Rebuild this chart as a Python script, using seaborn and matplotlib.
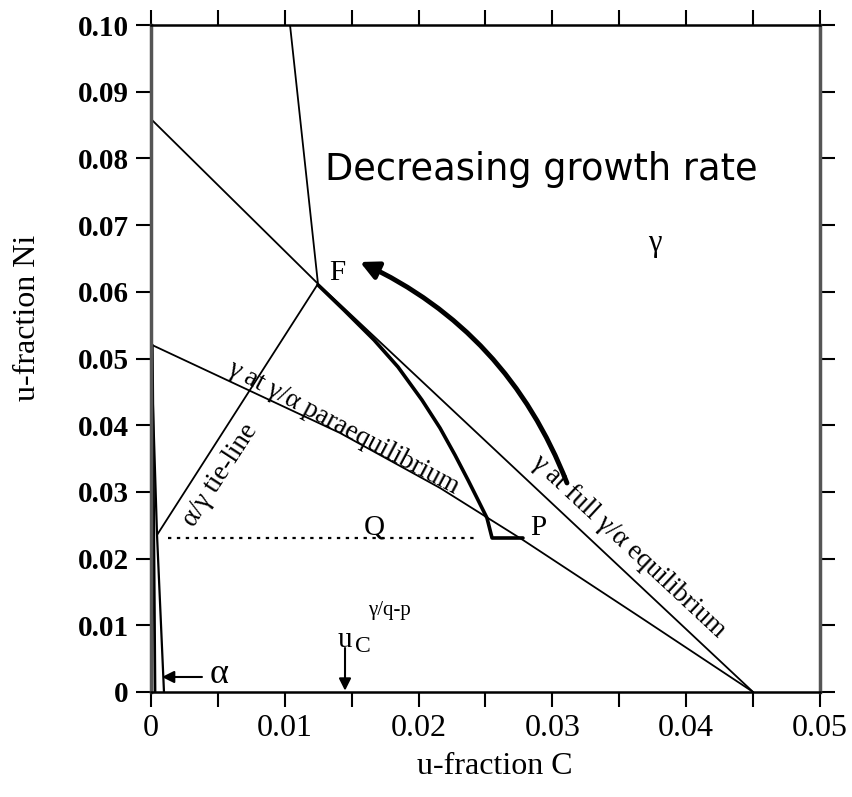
import numpy as np
import pandas as pd
import matplotlib
matplotlib.use("Agg")
import matplotlib.pyplot as plt
import seaborn as sns

# ---------------- data ----------------
full_eq_x = [0.0, 0.01248, 0.0450]
full_eq_y = [0.0859, 0.0612, 0.0]

para_eq_x = [0.0, 0.01413, 0.0216, 0.0278, 0.03655, 0.0450]
para_eq_y = [0.0521, 0.03883, 0.03059, 0.02279, 0.01124, 0.0]

steep_x = [0.01039, 0.01248]
steep_y = [0.1000, 0.0612]

tie_x = [0.01248, 0.00045]
tie_y = [0.0612, 0.02354]

alpha_para_x = [0.0, 0.00045, 0.00097]
alpha_para_y = [0.0521, 0.02354, 0.0]

alpha_full_x = [0.0001, 0.0003]
alpha_full_y = [0.0520, 0.0]

path_x = [0.01248, 0.01442, 0.01667, 0.01846, 0.02025, 0.02160, 0.02272,
          0.02369, 0.02444, 0.02511, 0.02549, 0.02780]
path_y = [0.06102, 0.05727, 0.05278, 0.04873, 0.04378, 0.03958, 0.03553,
          0.03179, 0.02879, 0.02609, 0.02309, 0.02309]

q_x = [0.00127, 0.02444]
q_y = [0.02309, 0.02309]

x_ticks = [0, 0.01, 0.02, 0.03, 0.04, 0.05]
x_tick_labels = ["0", "0.01", "0.02", "0.03", "0.04", "0.05"]
y_ticks = [0, 0.01, 0.02, 0.03, 0.04, 0.05, 0.06, 0.07, 0.08, 0.09, 0.10]
y_tick_labels = ["0", "0.01", "0.02", "0.03", "0.04", "0.05", "0.06",
                 "0.07", "0.08", "0.09", "0.10"]

# ---------------- figure ----------------
sns.set_theme(style="white")
plt.rcParams["font.family"] = ["Liberation Serif", "DejaVu Serif"]
plt.rcParams["mathtext.fontset"] = "stix"
plt.rcParams["text.color"] = "black"
plt.rcParams["axes.labelcolor"] = "black"
plt.rcParams["xtick.color"] = "black"
plt.rcParams["ytick.color"] = "black"

fig = plt.figure(figsize=(8.53, 7.97), dpi=100)
ax = fig.add_axes([151 / 853, 1 - 692 / 797, 669 / 853, 667 / 797])


def draw(xs, ys, **kw):
    df = pd.DataFrame({"x": xs, "y": ys})
    sns.lineplot(data=df, x="x", y="y", sort=False, estimator=None,
                 legend=False, ax=ax, **kw)


draw(full_eq_x, full_eq_y, color="black", linewidth=1.3)
draw(para_eq_x, para_eq_y, color="black", linewidth=1.3)
draw(steep_x, steep_y, color="black", linewidth=1.3)
draw(tie_x, tie_y, color="black", linewidth=1.3)
draw(alpha_para_x, alpha_para_y, color="black", linewidth=1.6)
draw(alpha_full_x, alpha_full_y, color="black", linewidth=2.0)
draw(path_x, path_y, color="black", linewidth=2.6)
draw(q_x, q_y, color="black", linewidth=1.6, linestyle=(0, (1.5, 2.5)))

ax.set_xlim(0, 0.05)
ax.set_ylim(0, 0.10)

# ticks
ax.set_xticks(x_ticks)
ax.set_xticklabels(x_tick_labels, fontsize=23)
ax.set_xticks(np.arange(0.005, 0.05, 0.01), minor=True)
ax.set_yticks(y_ticks)
ax.set_yticklabels(y_tick_labels, fontsize=21, fontweight="bold")
ax.tick_params(which="both", direction="out", length=11, width=1.5,
               top=True, right=True, bottom=True, left=True, color="black",
               pad=5)

for s in ["left", "right"]:
    ax.spines[s].set_color("#555555")
    ax.spines[s].set_linewidth(2.5)
for s in ["top", "bottom"]:
    ax.spines[s].set_color("black")
    ax.spines[s].set_linewidth(1.8)

ax.set_xlabel("u-fraction C", fontsize=23)
ax.set_ylabel("u-fraction Ni", fontsize=23)
ax.xaxis.set_label_coords(0.514, -0.09)
ax.yaxis.set_label_coords(-0.163, 0.561)

# ---------------- annotations ----------------
ax.text(0.01330, 0.0618, "F", fontsize=21, ha="left", va="baseline")
ax.text(0.02833, 0.02354, "P", fontsize=21, ha="left", va="baseline")
ax.text(0.01667, 0.02354, "Q", fontsize=21, ha="center", va="baseline")
ax.text(0.03767, 0.0673, "γ", fontsize=22, ha="center", va="center")

ax.text(0.02915, 0.07676, "Decreasing growth rate", fontsize=26.5,
        family=["DejaVu Sans"], color="black", ha="center", va="baseline")

ax.text(0.01432, 0.03967, "γ at γ/α paraequilibrium", fontsize=19.5,
        rotation=-28, rotation_mode="anchor", ha="center", va="center")
ax.text(0.00515, 0.0325, "α/γ tie-line", fontsize=19.5,
        rotation=57, rotation_mode="anchor", ha="center", va="center")
ax.text(0.0357, 0.0219, "γ at full γ/α equilibrium", fontsize=19.5,
        rotation=-43, rotation_mode="anchor", ha="center", va="center")

# growth-rate arrow
ax.annotate("", xy=(0.01562, 0.06447), xytext=(0.03109, 0.03134),
            arrowprops=dict(arrowstyle="-|>,head_length=0.9,head_width=0.45",
                            lw=3.5, color="black",
                            connectionstyle="arc3,rad=0.2",
                            shrinkA=0, shrinkB=0))

# alpha arrow
ax.annotate("", xy=(0.00082, 0.00225), xytext=(0.00381, 0.00225),
            arrowprops=dict(arrowstyle="-|>,head_length=0.6,head_width=0.3",
                            lw=1.5, color="black", shrinkA=0, shrinkB=0))
ax.text(0.00508, 0.00255, "α", fontsize=26, ha="center", va="center")

# u_C arrow
ax.annotate("", xy=(0.0145, 0.0002), xytext=(0.0145, 0.0066),
            arrowprops=dict(arrowstyle="-|>,head_length=0.6,head_width=0.3",
                            lw=1.5, color="black", shrinkA=0, shrinkB=0))
ax.text(0.0145, 0.00675, "u", fontsize=21, ha="center", va="baseline")
ax.text(0.01525, 0.0060, "C", fontsize=17, ha="left", va="baseline")
ax.text(0.01622, 0.01154, "γ/q-p", fontsize=15, ha="left", va="baseline")

fig.savefig("out.png", dpi=100)
